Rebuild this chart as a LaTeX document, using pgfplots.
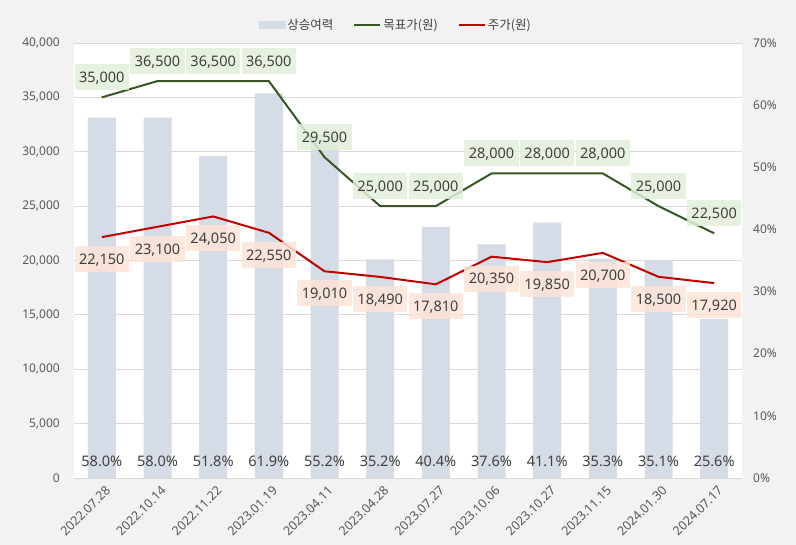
\documentclass[border=0pt]{standalone}
\usepackage{pgfplots}
\pgfplotsset{compat=1.18}
\usepackage{fontspec}
\setmainfont{Noto Sans}
\newfontfamily\kr{Noto Sans CJK KR}
\definecolor{bg}{HTML}{F2F2F2}
\definecolor{barc}{HTML}{D6DCE5}
\definecolor{gline}{HTML}{375623}
\definecolor{rline}{HTML}{C00000}
\definecolor{gfill}{HTML}{E2EFDA}
\definecolor{rfill}{HTML}{FCE4D6}
\definecolor{txt}{HTML}{404040}
\definecolor{tickc}{HTML}{595959}
\definecolor{gridc}{HTML}{D9D9D9}
\pgfplotsset{base/.style={
  scale only axis, width=668pt, height=435pt,
  at={(74pt,67pt)}, anchor=south west,
  xmin=-0.5, xmax=11.5,
  axis line style={draw=none}, major tick length=0pt,
  /pgf/number format/assume math mode=true,
  /pgf/number format/1000 sep={,},
  scaled y ticks=false,
}}
\begin{document}
\begin{tikzpicture}
\fill[bg] (0,0) rectangle (796pt,545pt);
\path[use as bounding box] (0,0) rectangle (796pt,545pt);
% grid
\begin{axis}[base, ymin=0, ymax=40000, ytick={0,5000,...,40000}, xtick=\empty,
  yticklabels={{},{},{},{},{},{},{},{},{}}, ymajorgrids, grid style={draw=gridc, line width=0.9pt},
  axis background/.style={fill=white}]
\end{axis}
% bars
\begin{axis}[base, ymin=0, ymax=70, ytick={0,10,...,70}, ytick pos=right, yticklabel pos=right,
  yticklabel={\pgfmathprintnumber{\tick}\%},
  yticklabel style={anchor=west, inner sep=0pt, xshift=11pt, text=tickc, font=\fontsize{12}{14}\selectfont},
  xtick={0,...,11},
  xticklabels={2022.07.28,2022.10.14,2022.11.22,2023.01.19,2023.04.11,2023.04.28,2023.07.27,2023.10.06,2023.10.27,2023.11.15,2024.01.30,2024.07.17},
  xticklabel style={rotate=45, anchor=north east, inner sep=0pt, xshift=-3pt, yshift=-7pt, text=tickc, font=\fontsize{12.5}{14}\selectfont}]
\addplot[ybar, bar width=28pt, fill=barc, draw=none] coordinates {
(0,58.0) (1,58.0) (2,51.8) (3,61.9) (4,55.2) (5,35.2) (6,40.4) (7,37.6) (8,41.1) (9,35.3) (10,35.1) (11,25.6)};
\addplot[draw=none, mark=none, point meta=explicit, nodes near coords={\pgfmathprintnumber[fixed,fixed zerofill,precision=1]{\pgfplotspointmeta}\%},
  nodes near coords style={anchor=center, text=txt, font=\fontsize{14.5}{17}\selectfont}] coordinates {
(0,2.6)[58.0] (1,2.6)[58.0] (2,2.6)[51.8] (3,2.6)[61.9] (4,2.6)[55.2] (5,2.6)[35.2] (6,2.6)[40.4] (7,2.6)[37.6] (8,2.6)[41.1] (9,2.6)[35.3] (10,2.6)[35.1] (11,2.6)[25.6]};
\end{axis}
% lines
\begin{axis}[base, ymin=0, ymax=40000, ytick={0,5000,...,40000}, ytick pos=left, xtick=\empty,
  yticklabel style={anchor=east, inner sep=0pt, xshift=-14pt, text=tickc, font=\fontsize{12}{14}\selectfont},
  legend style={at={(0.482,1.0414)}, anchor=center, draw=none, fill=none, legend columns=3,
    font=\fontsize{12.5}{14}\selectfont\kr, text=txt, inner sep=0pt, nodes={inner sep=2pt},
    /tikz/every even column/.append style={column sep=18pt}},
  legend entries={상승여력,목표가(원),주가(원)}]
\addlegendimage{legend image code/.code={\fill[barc] (0pt,-3.5pt) rectangle (26pt,3.5pt);}}
\addlegendimage{legend image code/.code={\draw[gline, line width=2pt] (0pt,0pt) -- (26pt,0pt);}}
\addlegendimage{legend image code/.code={\draw[rline, line width=2pt] (0pt,0pt) -- (26pt,0pt);}}
\addplot[forget plot, gline, line width=2pt, mark=none, nodes near coords,
  nodes near coords style={anchor=south, yshift=6pt, fill=gfill, fill opacity=0.85, text opacity=1, text=txt,
    font=\fontsize{14.5}{17}\selectfont, inner xsep=4.5pt, inner ysep=0pt, minimum height=26pt, text height=10.5pt, text depth=0pt}]
coordinates {(0,35000) (1,36500) (2,36500) (3,36500) (4,29500) (5,25000) (6,25000) (7,28000) (8,28000) (9,28000) (10,25000) (11,22500)};
\addplot[forget plot, rline, line width=2pt, mark=none, nodes near coords,
  nodes near coords style={anchor=north, yshift=-8pt, fill=rfill, fill opacity=0.85, text opacity=1, text=txt,
    font=\fontsize{14.5}{17}\selectfont, inner xsep=4.5pt, inner ysep=0pt, minimum height=26pt, text height=10.5pt, text depth=0pt}]
coordinates {(0,22150) (1,23100) (2,24050) (3,22550) (4,19010) (5,18490) (6,17810) (7,20350) (8,19850) (9,20700) (10,18500) (11,17920)};
\end{axis}
\end{tikzpicture}
\end{document}
